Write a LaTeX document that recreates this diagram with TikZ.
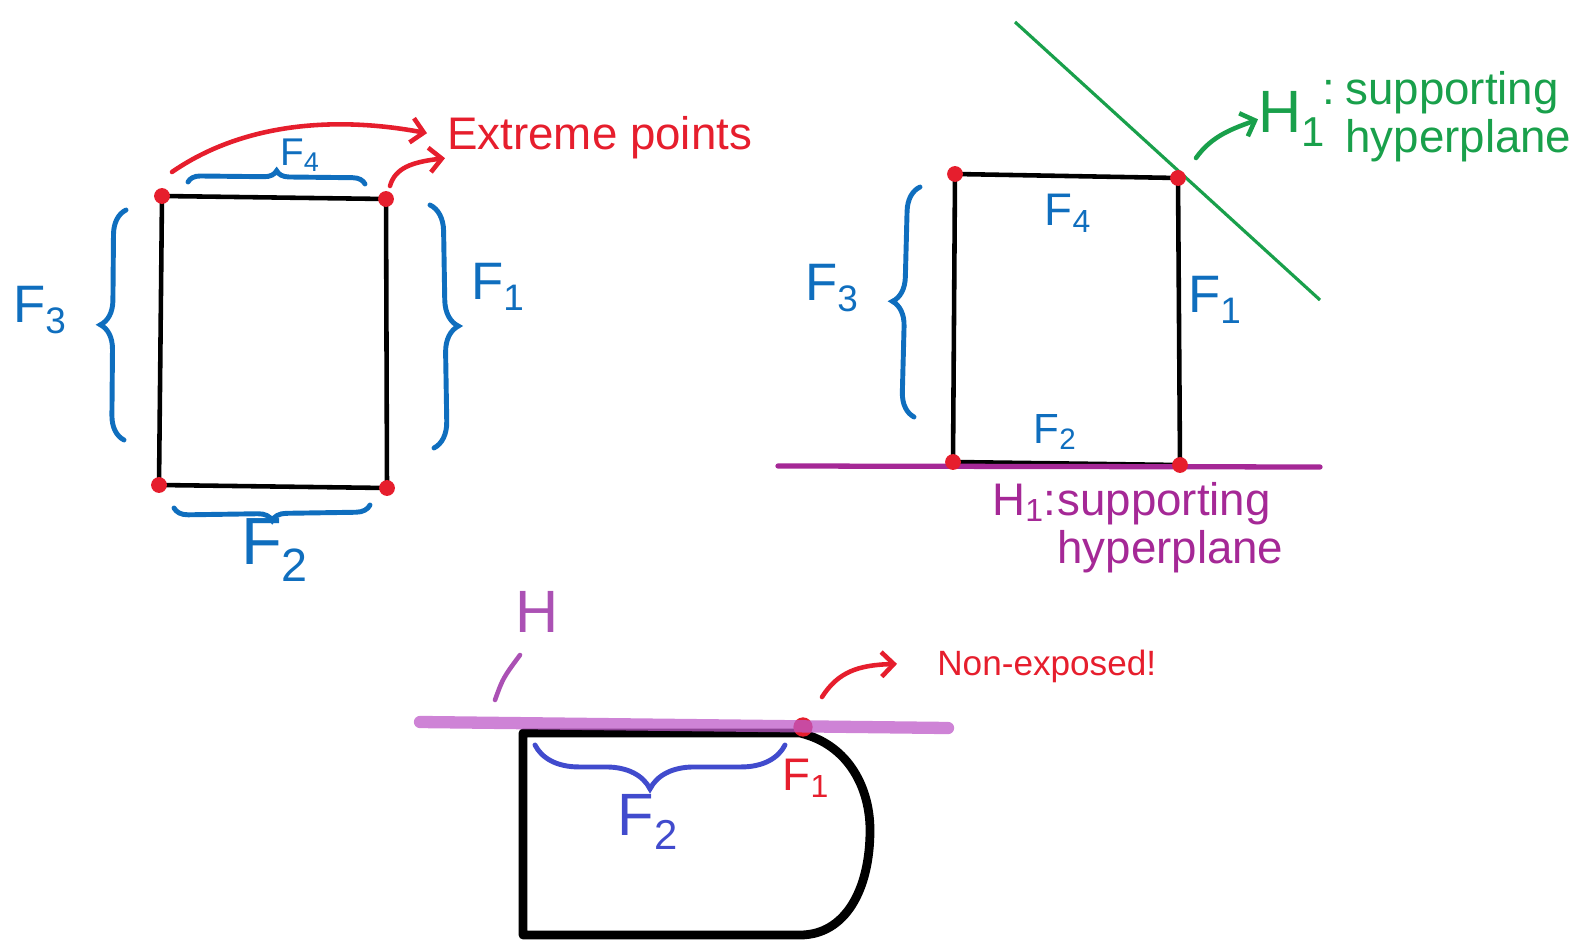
\documentclass[tikz,border=0pt]{standalone}
\usepackage{fontspec}
\setmainfont{Liberation Sans}
\usetikzlibrary{calc,arrows.meta,positioning,decorations.pathreplacing}

\definecolor{penred}{RGB}{230,30,45}
\definecolor{penblue}{RGB}{15,110,190}
\definecolor{penviolet}{RGB}{65,75,205}
\definecolor{pengreen}{RGB}{25,160,75}
\definecolor{penpurple}{RGB}{165,40,150}
\definecolor{penlilac}{RGB}{190,90,200}

\tikzset{
  edge/.style={line width=2.6pt},
  vertex/.style={circle,fill=penred,inner sep=0pt,minimum size=8pt},
  facebrace/.style={line width=2.8pt,line cap=round,decorate,decoration={brace,amplitude=#1}},
  facelabel/.style={inner sep=0pt,font=\fontsize{30}{30}\selectfont},
  note/.style={inner sep=0pt,anchor=base west,font=\fontsize{26}{28}\selectfont},
  pointer/.style={line width=2.6pt,line cap=round,-{Straight Barb[length=7pt,width=14pt]}},
}

\begin{document}
\begin{tikzpicture}[x=0.02cm,y=-0.02cm]
\useasboundingbox (0,0) rectangle (1577,942);

% left square: extreme points and facets
\node[vertex] (a1) at (162,196) {};
\node[vertex] (a2) at (386,199) {};
\node[vertex] (a3) at (387,488) {};
\node[vertex] (a4) at (159,485) {};
\draw[edge] (a1.center) -- (a2.center) -- (a3.center) -- (a4.center) -- cycle;
\foreach \v in {a1,a2,a3,a4}{
  \fill[penred] (\v) circle (4.5pt);
}
\draw[penblue,facebrace=7pt] (188,182) -- (365,184);
\draw[penblue,facebrace=14pt] (124,440) -- (126,210);
\draw[penblue,facebrace=15pt] (430,205) -- (434,448);
\draw[penblue,facebrace=8pt] (370,505) -- (174,508);
\node[facelabel,penblue,font=\fontsize{22}{22}\selectfont] (lf4) at (300,155) {F\textsubscript{4}};
\node[facelabel,penblue] (lf3) at (40,310) {F\textsubscript{3}};
\node[facelabel,penblue] (lf1) at (498,287) {F\textsubscript{1}};
\node[facelabel,penblue,font=\fontsize{38}{38}\selectfont] (lf2) at (275,550) {F\textsubscript{2}};

\node[note,penred] (ext) at (447,150) {Extreme points};
\draw[pointer,penred] (172,172) .. controls (240,125) and (330,115) .. ($(ext.west)+(-20,-5)$);
\draw[pointer,penred] (390,186) .. controls (395,168) and (412,162) .. ($(ext.west)+(-2,20)$);

% right square: supporting hyperplanes
\node[vertex] (b1) at (955,174) {};
\node[vertex] (b2) at (1178,178) {};
\node[vertex] (b3) at (1180,465) {};
\node[vertex] (b4) at (953,462) {};
\draw[edge] (b1.center) -- (b2.center) -- (b3.center) -- (b4.center) -- cycle;
\coordinate (g1) at (1015,22);
\coordinate (g2) at (1320,300);
\draw[pengreen,line width=1.8pt] (g1) -- (g2);
\coordinate (p1) at (778,466);
\coordinate (p2) at (1320,467);
\draw[penpurple,line width=3pt,line cap=round] (p1) -- (p2);
\foreach \v in {b1,b2,b3,b4}{
  \fill[penred] (\v) circle (4.5pt);
}
\draw[penblue,facebrace=14pt] (914,417) -- (920,187);
\node[facelabel,penblue] (rf3) at (832,288) {F\textsubscript{3}};
\node[facelabel,penblue,font=\fontsize{26}{26}\selectfont] (rf4) at (1068,213) {F\textsubscript{4}};
\node[facelabel,penblue] (rf1) at (1215,300) {F\textsubscript{1}};
\node[facelabel,penblue,font=\fontsize{24}{24}\selectfont] (rf2) at (1055,432) {F\textsubscript{2}};

\node[inner sep=0pt,anchor=base,text=pengreen,font=\fontsize{34}{34}\selectfont] (hgreen) at (1292,133) {H\textsubscript{1}};
\node[note,pengreen] (gcol) at (1322,105) {:};
\node[note,pengreen] (gsup) at (1345,105) {supporting};
\node[note,pengreen] (ghyp) at (1345,153) {hyperplane};
\draw[pointer,pengreen] (1196,158) .. controls (1212,135) and (1235,128) .. (hgreen.west);

\node[note,penpurple] (psup) at (1057,515) {supporting};
\node[inner sep=0pt,anchor=base east,text=penpurple,font=\fontsize{26}{28}\selectfont] (ppre) at (psup.base west) {H\textsubscript{1}:};
\node[note,penpurple] (phyp) at (1057,563) {hyperplane};

% bottom: a non-exposed face
\draw[line width=5pt,line join=round] (523,935) -- (523,733) -- (800,733)
  .. controls (850,745) and (870,790) .. (870,830)
  .. controls (870,890) and (845,935) .. (800,935) -- cycle;
\node[vertex,minimum size=11pt] (c1) at (803,727) {};
\coordinate (l1) at (420,722);
\coordinate (l2) at (948,728);
\draw[penlilac,opacity=0.75,line width=7pt,line cap=round] (l1) -- (l2);
\draw[penviolet,facebrace=25pt,decoration={aspect=0.54}] (785,745) -- (535,745);
\node[facelabel,penviolet,font=\fontsize{34}{34}\selectfont] (bf2) at (648,822) {F\textsubscript{2}};
\node[facelabel,penred,font=\fontsize{26}{26}\selectfont] (bf1) at (806,778) {F\textsubscript{1}};
\node[facelabel,penlilac!90!black,font=\fontsize{34}{34}\selectfont] (hlabel) at (537,612) {H};
\coordinate (htick) at (495,700);
\draw[penlilac!90!black,line width=2.6pt,line cap=round] (htick) .. controls (503,678) .. (520,655);
\node[note,penred,font=\fontsize{20}{22}\selectfont] (nonexp) at (937,675) {Non-exposed!};
\draw[pointer,penred] (822,697) .. controls (838,672) and (858,665) .. ($(nonexp.west)+(-40,-2)$);
\end{tikzpicture}
\end{document}
